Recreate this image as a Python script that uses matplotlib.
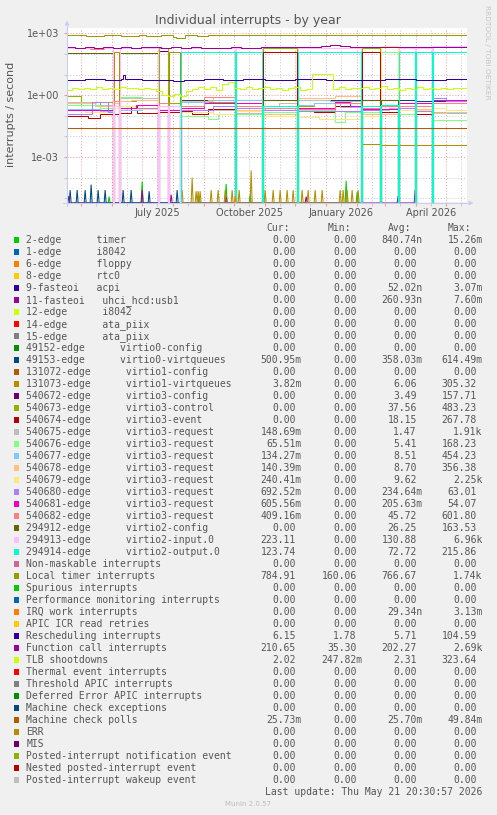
import numpy as np
import matplotlib
matplotlib.use('Agg')
import matplotlib.pyplot as plt
import matplotlib.dates as mdates
from matplotlib.patches import Rectangle, Polygon
from matplotlib.lines import Line2D
from matplotlib.ticker import FixedLocator, NullFormatter, FixedFormatter

W, H = 497, 815
X_START = '2025-04-16T20:30'
X_END = '2026-05-21T20:30'
Y_MIN, Y_MAX = 5.9e-6, 1.8e3

# ---------------- legend table ----------------
LABELS = [
    '2-edge      timer', '1-edge      i8042', '6-edge      floppy', '8-edge      rtc0',
    '9-fasteoi   acpi', '11-fasteoi   uhci_hcd:usb1', '12-edge      i8042',
    '14-edge      ata_piix', '15-edge      ata_piix', '49152-edge      virtio0-config',
    '49153-edge      virtio0-virtqueues', '131072-edge      virtio1-config',
    '131073-edge      virtio1-virtqueues', '540672-edge      virtio3-config',
    '540673-edge      virtio3-control', '540674-edge      virtio3-event',
    '540675-edge      virtio3-request', '540676-edge      virtio3-request',
    '540677-edge      virtio3-request', '540678-edge      virtio3-request',
    '540679-edge      virtio3-request', '540680-edge      virtio3-request',
    '540681-edge      virtio3-request', '540682-edge      virtio3-request',
    '294912-edge      virtio2-config', '294913-edge      virtio2-input.0',
    '294914-edge      virtio2-output.0', 'Non-maskable interrupts',
    'Local timer interrupts', 'Spurious interrupts', 'Performance monitoring interrupts',
    'IRQ work interrupts', 'APIC ICR read retries', 'Rescheduling interrupts',
    'Function call interrupts', 'TLB shootdowns', 'Thermal event interrupts',
    'Threshold APIC interrupts', 'Deferred Error APIC interrupts',
    'Machine check exceptions', 'Machine check polls', 'ERR', 'MIS',
    'Posted-interrupt notification event', 'Nested posted-interrupt event',
    'Posted-interrupt wakeup event']

PALETTE = ['#00CC00', '#0066B3', '#FF8000', '#FFCC00', '#330099', '#990099', '#CCFF00',
           '#FF0000', '#808080', '#008F00', '#00487D', '#B35A00', '#B38F00', '#6B006B',
           '#8FB300', '#B30000', '#BEBEBE', '#80FF80', '#80C9FF', '#FFC080', '#FFE680',
           '#AA80FF', '#EE00CC', '#FF8080', '#666600', '#FFBFFF', '#00FFCC', '#CC6699',
           '#999900']
COLORS = [PALETTE[i % len(PALETTE)] for i in range(len(LABELS))]

CUR = [0, 0, 0, 0, 0, 0, 0, 0, 0, 0, 500.95e-3, 0, 3.82e-3, 0, 0, 0, 148.69e-3, 65.51e-3,
       134.27e-3, 140.39e-3, 240.41e-3, 692.52e-3, 605.56e-3, 409.16e-3, 0, 223.11, 123.74,
       0, 784.91, 0, 0, 0, 0, 6.15, 210.65, 2.02, 0, 0, 0, 0, 25.73e-3, 0, 0, 0, 0, 0]
MIN = [0, 0, 0, 0, 0, 0, 0, 0, 0, 0, 0, 0, 0, 0, 0, 0, 0, 0, 0, 0, 0, 0, 0, 0, 0, 0, 0,
       0, 160.06, 0, 0, 0, 0, 1.78, 35.30, 247.82e-3, 0, 0, 0, 0, 0, 0, 0, 0, 0, 0]
AVG = [840.74e-9, 0, 0, 0, 52.02e-9, 260.93e-9, 0, 0, 0, 0, 358.03e-3, 0, 6.06, 3.49,
       37.56, 18.15, 1.47, 5.41, 8.51, 8.70, 9.62, 234.64e-3, 205.63e-3, 45.72, 26.25,
       130.88, 72.72, 0, 766.67, 0, 0, 29.34e-9, 0, 5.71, 202.27, 2.31, 0, 0, 0, 0,
       25.70e-3, 0, 0, 0, 0, 0]
MAX = [15.26e-3, 0, 0, 0, 3.07e-3, 7.60e-3, 0, 0, 0, 0, 614.49e-3, 0, 305.32, 157.71,
       483.23, 267.78, 1.91e3, 168.23, 454.23, 356.38, 2.25e3, 63.01, 54.07, 601.80,
       163.53, 6.96e3, 215.86, 0, 1.74e3, 0, 0, 3.13e-3, 0, 104.59, 2.69e3, 323.64, 0, 0,
       0, 0, 49.84e-3, 0, 0, 0, 0, 0]

# ---------------- time series data ----------------
# restarts of the guest: virtio interrupt counters drop to zero for a day
REBOOTS = ['2025-06-02', '2025-06-08', '2025-07-17', '2025-07-27', '2025-08-08',
           '2025-10-02', '2025-10-29', '2025-12-03', '2026-02-05', '2026-02-24',
           '2026-03-14', '2026-03-31', '2026-04-17']
SEG_START = ['2025-04-16', '2025-06-03', '2025-06-09', '2025-07-18', '2025-07-28',
             '2025-08-09', '2025-10-03', '2025-10-30', '2025-12-04', '2026-02-06',
             '2026-02-25', '2026-03-15', '2026-04-01', '2026-04-18']

V49153 = [0, 0, 0, 0, 0, 0.55, 0.55, 0.55, 0.55, 0.55, 0.55, 0.55, 0.52, 0.50]
V131073 = [0, 120, 0, 0, 120, 0, 0, 0, 0, 0.0045, 0.004, 0.004, 0.004, 0.0038]
V540672 = [0, 0, 0, 140, 0, 0, 0, 0, 0, 0, 0, 0, 0, 0]
V540673 = [0.95, 0.4, 0.5, 200, 0.4, 0.3, 0.3, 200, 0.3, 200, 0.3, 0.3, 0.3, 0]
V540673_X = (['2025-05-01', '2025-05-20', '2025-06-25', '2025-09-01', '2025-12-20'],
             [0.35, 0.45, 0.6, 0.45, 0.4])
V540674 = [0.1, 0.12, 0.13, 0.15, 0.15, 0.18, 0.18, 125, 0.2, 125, 0.15, 0.12, 0.12, 0]
V540674_X = (['2025-05-08', '2025-05-20', '2025-06-20', '2025-06-26', '2025-08-20',
              '2025-09-05', '2025-12-20', '2026-01-10'],
             [0.08, 0.12, 0.3, 0.14, 0.12, 0.22, 0.15, 0.3])
V540675 = [0.45, 0.5, 0.7, 0.3, 0.3, 0.15, 0.13, 0.3, 0.6, 0.3, 0.2, 0.2, 0.2, 0.149]
V540675_X = (['2025-05-15', '2025-09-10', '2025-11-15', '2026-01-05', '2026-03-05'],
             [0.35, 0.2, 0.4, 0.5, 0.25])
V540676 = [0.35, 0.4, 0.8, 0.3, 0.3, 0.1, 0.12, 0.15, 0.2, 0.15, 125, 0.12, 0.18, 0.0655]
V540676_X = (['2025-05-20', '2025-07-01', '2025-09-05', '2025-09-15', '2026-01-10',
              '2026-01-20'], [0.25, 0.6, 0.07, 0.12, 0.05, 0.15])
V540677 = [0.22, 0.25, 0.2, 0.2, 0.2, 0.45, 0.55, 0.3, 0.32, 0.3, 0.3, 0.3, 220, 0.134]
V540677_X = (['2025-05-20', '2025-07-01', '2025-09-05', '2025-12-20', '2026-01-15'],
             [0.18, 0.25, 0.55, 0.4, 0.28])
V540678 = [0.4, 0.4, 0.5, 0.3, 0.3, 0.5, 0.2, 0.12, 0.7, 0.12, 0.12, 220, 0.22, 0.14]
V540678_X = (['2025-05-15', '2025-06-20', '2025-09-10', '2026-01-10', '2026-05-01'],
             [0.3, 0.6, 0.8, 0.9, 0.16])
V540679 = [0.2, 0.25, 0.3, 0.2, 0.2, 0.15, 0.18, 0.1, 0.09, 0.1, 240, 0.2, 0.2, 0.24]
V540679_X = (['2025-05-05', '2025-06-25', '2025-09-10', '2025-12-25', '2026-05-01'],
             [0.15, 0.22, 0.12, 0.07, 0.2])
V540680 = [0.12, 0.3, 0.25, 0.2, 0.2, 0.2, 0.25, 0.2, 0.18, 0.2, 0.3, 0.25, 0.18, 0.69]
V540680_X = (['2025-05-12', '2025-05-28', '2025-09-10', '2026-05-01'], [0.45, 0.15, 0.3, 0.5])
V540681 = [0.2, 0.3, 0.25, 0.2, 0.2, 0.25, 0.4, 0.25, 0.25, 0.22, 0.22, 0.4, 0.4, 0.61]
V540681_X = (['2025-06-25', '2025-09-01', '2026-01-10', '2026-01-25', '2026-05-01'],
             [0.35, 0.4, 0.45, 0.3, 0.55])
V540682 = [190, 0.5, 190, 0.4, 0.3, 0.3, 0.3, 0.25, 0.22, 0.25, 0.3, 0.3, 0.3, 0.41]
V540682_X = (['2025-05-10', '2025-05-24', '2025-09-01', '2026-01-10'], [175, 200, 0.8, 0.4])
V294912 = [115, 0, 115, 0, 0, 0, 0, 0.55, 0, 0.55, 0.55, 0, 0, 0]
V294913 = [195, 0.3, 195, 0.3, 0.3, 195, 195, 0.3, 195, 0.3, 0.35, 195, 195, 240]
V294914 = [0, 0, 0, 0, 0, 125, 125, 0.3, 125, 0.3, 0.35, 125, 125, 124]

LT_DATES = ['2025-04-16', '2025-04-22', '2025-04-28', '2025-05-06', '2025-05-15', '2025-05-24',
            '2025-06-01', '2025-06-10', '2025-06-20', '2025-06-28', '2025-07-05', '2025-07-12',
            '2025-07-20', '2025-08-01', '2025-08-04', '2025-08-09', '2025-08-13', '2025-08-25',
            '2025-09-05', '2025-09-20', '2025-10-10', '2025-10-25', '2025-11-15', '2025-12-01',
            '2025-12-20', '2026-01-02', '2026-01-20', '2026-02-01', '2026-02-15', '2026-03-01',
            '2026-03-20', '2026-04-02', '2026-04-15', '2026-05-01', '2026-05-10']
LT_VALUES = [800, 785, 790, 775, 770, 780, 790, 770, 775, 790, 760, 775, 785, 640, 560, 600,
             780, 770, 795, 780, 785, 800, 790, 780, 805, 840, 800, 790, 790, 780, 785, 800,
             795, 780, 785]

FC_DATES = ['2025-04-16', '2025-04-25', '2025-05-05', '2025-05-14', '2025-05-23', '2025-06-02',
            '2025-06-10', '2025-06-20', '2025-06-30', '2025-07-10', '2025-07-20', '2025-07-30',
            '2025-08-09', '2025-08-19', '2025-08-29', '2025-09-08', '2025-09-18', '2025-09-28',
            '2025-10-08', '2025-10-18', '2025-10-28', '2025-11-07', '2025-11-17', '2025-11-27',
            '2025-12-07', '2025-12-17', '2025-12-27', '2026-01-05', '2026-01-15', '2026-01-25',
            '2026-02-04', '2026-02-14', '2026-02-24', '2026-03-06', '2026-03-16', '2026-03-26',
            '2026-04-05', '2026-04-15', '2026-04-25', '2026-05-05', '2026-05-15']
FC_VALUES = [205, 200, 208, 200, 212, 195, 205, 200, 210, 205, 198, 210, 200, 205, 196, 204,
             200, 207, 203, 198, 206, 210, 205, 212, 215, 220, 240, 262, 255, 225, 215, 212,
             210, 208, 214, 210, 212, 216, 214, 212, 210]

RS_DATES = ['2025-04-16', '2025-05-05', '2025-05-25', '2025-06-10', '2025-06-12', '2025-06-14',
            '2025-07-01', '2025-07-20', '2025-08-01', '2025-08-12', '2025-09-01', '2025-09-20',
            '2025-10-10', '2025-11-01', '2025-12-01', '2026-01-01', '2026-02-01', '2026-03-01',
            '2026-04-01', '2026-05-01', '2026-05-15']
RS_VALUES = [5.6, 5.8, 5.5, 6.0, 9.5, 5.9, 5.7, 5.5, 4.8, 5.5, 6.0, 5.6, 5.8, 5.7, 5.8, 5.6,
             5.7, 5.9, 5.6, 6.0, 6.15]

TLB_DATES = ['2025-04-16', '2025-04-22', '2025-04-28', '2025-05-04', '2025-05-10', '2025-05-16',
             '2025-05-22', '2025-05-28', '2025-06-03', '2025-06-09', '2025-06-15', '2025-06-21',
             '2025-06-27', '2025-07-03', '2025-07-09', '2025-07-15', '2025-07-21', '2025-07-27',
             '2025-08-02', '2025-08-08', '2025-08-14', '2025-08-20', '2025-08-26', '2025-09-01',
             '2025-09-07', '2025-09-13', '2025-09-19', '2025-09-25', '2025-10-01', '2025-10-07',
             '2025-10-13', '2025-10-19', '2025-10-25', '2025-10-31', '2025-11-06', '2025-11-12',
             '2025-11-18', '2025-11-24', '2025-11-30', '2025-12-06', '2025-12-12', '2025-12-18',
             '2026-01-08', '2026-01-14', '2026-01-20', '2026-01-26', '2026-02-01', '2026-02-07',
             '2026-02-13', '2026-02-19', '2026-02-25', '2026-03-03', '2026-03-09', '2026-03-15',
             '2026-03-21', '2026-03-27', '2026-04-02', '2026-04-08', '2026-04-14', '2026-04-20',
             '2026-04-26', '2026-05-02', '2026-05-08', '2026-05-14']
TLB_VALUES = [1.8, 2.1, 1.9, 2.3, 2.0, 2.4, 1.9, 2.2, 2.0, 2.5, 2.1, 2.3, 1.9, 2.2, 2.0, 1.6,
              1.0, 0.9, 1.2, 0.9, 1.6, 2.0, 2.4, 2.0, 2.6, 1.8, 3.5, 4.5, 2.1, 2.0, 2.4, 1.9,
              2.2, 2.5, 2.0, 2.3, 1.8, 2.1, 2.4, 1.8, 2.0, 10.5, 2.0, 2.4, 1.9, 2.3, 2.1, 2.5,
              1.9, 2.2, 2.8, 2.0, 2.3, 1.8, 2.1, 2.0, 2.4, 1.9, 2.2, 2.0, 2.3, 1.9, 2.1, 2.2]

MCP_DATES = ['2025-04-16']
MCP_VALUES = [0.0257]

# small bursts near zero (peaks read at the bottom of the graph)
SPK_49153_DATES = ['2025-04-20', '2025-04-27', '2025-05-05', '2025-05-11', '2025-05-18',
                   '2025-05-25', '2025-06-12', '2025-06-20', '2025-07-08', '2025-08-05']
SPK_49153_VALUES = [2.5e-5, 2.5e-5, 2.5e-5, 4.6e-5, 2.5e-5, 2.5e-5, 2.5e-5, 2.5e-5, 2.2e-5, 2.5e-5]
SPK_131073_DATES = ['2025-08-10', '2025-08-20', '2025-08-24', '2025-08-26', '2025-08-28',
                    '2025-09-08', '2025-09-15', '2025-09-22', '2025-09-29', '2025-10-06',
                    '2025-10-18', '2025-11-01', '2025-11-09', '2025-11-16', '2025-11-23',
                    '2025-11-29', '2025-12-08', '2025-12-14', '2025-12-21', '2025-12-28',
                    '2026-01-15', '2026-01-18', '2026-01-22', '2026-01-27', '2026-02-02']
SPK_131073_VALUES = [2.5e-5, 1.0e-4, 2.2e-5, 2.2e-5, 2.2e-5, 2.5e-5, 2.5e-5, 2.5e-5, 2.5e-5,
                     2.5e-5, 2.2e-4, 2.5e-5, 2.5e-5, 2.5e-5, 2.5e-5, 2.5e-5, 2.5e-5, 2.5e-5,
                     2.5e-5, 2.5e-5, 2.5e-5, 2.5e-5, 2.5e-5, 2.5e-5, 2.5e-5]
SPK_2EDGE_DATES = ['2025-05-29', '2025-07-01', '2025-08-27', '2025-09-23', '2025-10-17',
                   '2026-01-21', '2026-02-01']
SPK_2EDGE_VALUES = [1.2e-5, 6.6e-5, 1.2e-5, 5.0e-5, 1.5e-5, 7.0e-5, 2.0e-5]
SPK_11F_DATES = ['2025-04-18', '2025-07-01', '2025-07-30', '2025-09-23', '2025-12-12',
                 '2026-03-14', '2026-03-31']
SPK_11F_VALUES = [1.3e-5, 2.5e-5, 1.5e-5, 1.2e-5, 1.2e-5, 1.3e-5, 2.5e-5]
SPK_IRQW_DATES = ['2025-10-02']
SPK_IRQW_VALUES = [1.3e-5]

XLABEL_DATES = ['2025-07-16', '2025-10-16', '2026-01-16', '2026-04-16']
XLABEL_TEXT = ['July 2025', 'October 2025', 'January 2026', 'April 2026']
YMAJOR = [1e-3, 1.0, 1e3]
YMAJOR_TEXT = ['1e-03', '1e+00', '1e+03']
YMINOR = [1e-5, 1e-4, 1e-2, 1e-1, 10, 100]


# ---------------- helpers ----------------
def D(s):
    return np.datetime64(s, 'm')


ONE_DAY = np.timedelta64(1440, 'm')


def seg_series(vals, extra=((), ())):
    assert len(vals) == len(SEG_START)
    assert len(extra[0]) == len(extra[1])
    dates = [D(s) for s in SEG_START] + [D(s) for s in extra[0]] + [D(s) for s in REBOOTS]
    values = list(vals) + list(extra[1]) + [0.0] * len(REBOOTS)
    dates = np.array(dates)
    order = np.argsort(dates, kind='stable')
    d = np.append(dates[order], D(X_END))
    v = np.array(values, float)[order]
    v = np.append(v, v[-1])
    return d, v, True


def plain(dates, values):
    assert len(dates) == len(values)
    d = np.append(np.array([D(s) for s in dates]), D(X_END))
    v = np.append(np.array(values, float), values[-1])
    return d, v, True


def spikes(dates, peaks):
    assert len(dates) == len(peaks)
    d, v = [], []
    for s, p in zip(dates, peaks):
        t = D(s)
        d += [t - ONE_DAY, t, t + ONE_DAY]
        v += [0.0, p, 0.0]
    return np.array(d), np.array(v, float), False


SERIES = {
    0: [spikes(SPK_2EDGE_DATES, SPK_2EDGE_VALUES)],
    5: [spikes(SPK_11F_DATES, SPK_11F_VALUES)],
    10: [spikes(SPK_49153_DATES, SPK_49153_VALUES), seg_series(V49153)],
    12: [spikes(SPK_131073_DATES, SPK_131073_VALUES), seg_series(V131073)],
    13: [seg_series(V540672)],
    14: [seg_series(V540673, V540673_X)],
    15: [seg_series(V540674, V540674_X)],
    16: [seg_series(V540675, V540675_X)],
    17: [seg_series(V540676, V540676_X)],
    18: [seg_series(V540677, V540677_X)],
    19: [seg_series(V540678, V540678_X)],
    20: [seg_series(V540679, V540679_X)],
    21: [seg_series(V540680, V540680_X)],
    22: [seg_series(V540681, V540681_X)],
    23: [seg_series(V540682, V540682_X)],
    24: [seg_series(V294912)],
    25: [seg_series(V294913)],
    26: [seg_series(V294914)],
    28: [plain(LT_DATES, LT_VALUES)],
    31: [spikes(SPK_IRQW_DATES, SPK_IRQW_VALUES)],
    33: [plain(RS_DATES, RS_VALUES)],
    34: [plain(FC_DATES, FC_VALUES)],
    35: [plain(TLB_DATES, TLB_VALUES)],
    40: [plain(MCP_DATES, MCP_VALUES)],
}


def fx(x):
    return x / W


def fy(y):
    return 1 - y / H


TXT = '#555555'
BG = '#F0F0F0'
AXC = '#C8CDF2'
MONO = 'DejaVu Sans Mono'

fig = plt.figure(figsize=(W / 100, H / 100), dpi=100, facecolor=BG)
ax = fig.add_axes([fx(67), fy(203), 400 / W, 175 / H])
ax.set_facecolor('white')
ax.set_yscale('log')
ax.set_ylim(Y_MIN, Y_MAX)
ax.set_xlim(D(X_START), D(X_END))
for s in ax.spines.values():
    s.set_visible(False)

ax.yaxis.set_major_locator(FixedLocator(YMAJOR))
ax.yaxis.set_major_formatter(FixedFormatter(YMAJOR_TEXT))
ax.yaxis.set_minor_locator(FixedLocator(YMINOR))
ax.yaxis.set_minor_formatter(NullFormatter())
ax.xaxis.set_major_locator(mdates.MonthLocator(bymonthday=1))
ax.xaxis.set_minor_locator(mdates.MonthLocator(bymonthday=16))
ax.xaxis.set_major_formatter(NullFormatter())
ax.xaxis.set_minor_formatter(NullFormatter())
ax.set_axisbelow(True)
ax.grid(which='major', color='#EE9A9A', linestyle=(0, (1, 2)), linewidth=0.7)
ax.grid(which='minor', color='#C4C4C4', linestyle=(0, (1, 2)), linewidth=0.7)
ax.tick_params(axis='y', which='major', length=2.2, color='#EE9A9A', labelsize=7,
               labelcolor=TXT, pad=3.6)
ax.tick_params(axis='y', which='minor', length=2.2, color='#C4C4C4')
ax.tick_params(axis='x', which='major', length=2.2, color='#EE9A9A')
ax.tick_params(axis='x', which='minor', length=2.2, color='#C4C4C4')

for idx in range(len(LABELS)):
    for d, v, steps in SERIES.get(idx, []):
        vv = np.where(v > 0, v, Y_MIN)
        ax.plot(d, vv, color=COLORS[idx], linewidth=0.75,
                drawstyle='steps-post' if steps else 'default', solid_joinstyle='miter')

for dt, t in zip(XLABEL_DATES, XLABEL_TEXT):
    ax.text(D(dt), -12.7 / 175, t, transform=ax.get_xaxis_transform(), ha='center',
            va='baseline', fontsize=7, color=TXT)

# axis lines with arrows (rrdtool style)
fig.add_artist(Line2D([fx(67), fx(67)], [fy(206), fy(24)], transform=fig.transFigure,
                      color=AXC, linewidth=0.8))
fig.add_artist(Line2D([fx(63), fx(470)], [fy(203), fy(203)], transform=fig.transFigure,
                      color=AXC, linewidth=0.8))
fig.add_artist(Polygon([(fx(64.5), fy(25.5)), (fx(69.5), fy(25.5)), (fx(67), fy(20.5))],
                       closed=True, transform=fig.transFigure, color=AXC, lw=0))
fig.add_artist(Polygon([(fx(468.5), fy(200.5)), (fx(468.5), fy(205.5)), (fx(473.5), fy(203))],
                       closed=True, transform=fig.transFigure, color=AXC, lw=0))

fig.text(fx(248), fy(24), 'Individual interrupts - by year', ha='center', va='baseline',
         fontsize=9, color=TXT)
fig.text(fx(11), fy(114), 'interrupts / second', rotation=90, ha='center', va='center',
         fontsize=8, color=TXT)
fig.text(fx(487.5), fy(5), 'RRDTOOL / TOBI OETIKER', rotation=270, ha='center', va='top',
         fontsize=5.3, color='#C4C4C4')

# legend table
CW = 0.602 * 7 * 100 / 72
COL_RIGHT = [301.7, 362.7, 422.7, 482.7]
HEAD = ['Cur:', 'Min:', 'Avg:', 'Max:']


def fmt(v):
    if v == 0:
        return '0.00', ''
    for f, s in [(1e3, 'k'), (1.0, ''), (1e-3, 'm'), (1e-6, 'u'), (1e-9, 'n')]:
        if abs(v) >= f * 0.9999999:
            return '%.2f' % (v / f), s
    return '%.2f' % v, ''


for h, xr in zip(HEAD, COL_RIGHT):
    fig.text(fx(xr - 2 * CW), fy(230.7), h, ha='right', va='baseline', fontsize=7,
             family=MONO, color=TXT)

for i, lab in enumerate(LABELS):
    base = 242.7 + 12 * i
    fig.add_artist(Rectangle((fx(14), fy(base)), 5.3 / W, 5.3 / H, transform=fig.transFigure,
                             facecolor=COLORS[i], edgecolor='none'))
    fig.text(fx(26.3), fy(base), lab, ha='left', va='baseline', fontsize=7, family=MONO,
             color=TXT)
    for vals, xr in zip([CUR, MIN, AVG, MAX], COL_RIGHT):
        num, suf = fmt(vals[i])
        x = xr if suf else xr - CW
        fig.text(fx(x), fy(base), num + suf, ha='right', va='baseline', fontsize=7,
                 family=MONO, color=TXT)

fig.text(fx(482.7), fy(794.7), 'Last update: Thu May 21 20:30:57 2026', ha='right',
         va='baseline', fontsize=7, family=MONO, color=TXT)
fig.text(fx(248), fy(804), 'Munin 2.0.57', ha='center', va='center', fontsize=5,
         color='#BBBBBB')

fig.savefig('out.png', dpi=100, facecolor=BG)
